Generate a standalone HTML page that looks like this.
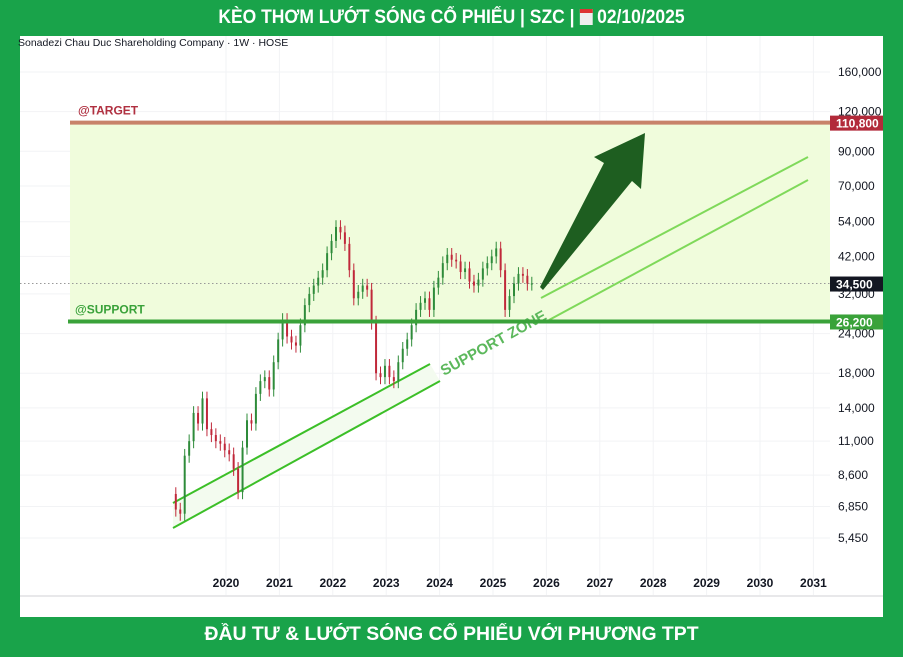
<!DOCTYPE html>
<html><head><meta charset="utf-8"><style>
body{margin:0;width:903px;height:657px;background:#19a34a;overflow:hidden;font-family:"Liberation Sans",sans-serif}
#title,#footer{position:absolute;left:0;width:903px;text-align:center;color:#fff;font-family:"Liberation Sans Narrow","Liberation Sans","Noto Sans CJK SC",sans-serif;font-weight:bold;font-size:19px}
#title{top:7px;transform:scaleX(0.92)}
#footer{top:624px;transform:scaleX(1.02)}
#panel{position:absolute;left:20px;top:36px;width:863px;height:581px;background:#fff}
svg{position:absolute;left:0;top:0}
</style></head><body>
<div id="title">KÈO THƠM LƯỚT SÓNG CỔ PHIẾU | SZC | <span style="display:inline-block;width:14px;height:16px;background:#eee;border-top:4px solid #d33;vertical-align:-2px;box-sizing:border-box"></span> 02/10/2025</div>
<div id="panel"></div>
<div id="footer">ĐẦU TƯ &amp; LƯỚT SÓNG CỔ PHIẾU VỚI PHƯƠNG TPT</div>
<svg id="chart" width="903" height="657"></svg>
<script>
const priceTicks=[160000,120000,90000,70000,54000,42000,32000,24000,18000,14000,11000,8600,6850,5450];
const yearTicks=[2020,2021,2022,2023,2024,2025,2026,2027,2028,2029,2030,2031];
const closes=[6700,6500,9900,11000,13500,12500,15000,12000,11500,11000,10800,10300,10000,9000,7600,10500,12800,12500,15500,17000,17500,16000,19500,23000,26500,23500,22500,22000,25500,29500,32000,34000,36000,38000,43000,47000,52000,50000,46000,38000,31000,32500,34000,33000,26000,18000,17500,19000,17500,17000,19500,21500,23000,25500,28500,30000,31000,28500,33500,36000,40000,42500,41000,40500,37500,38500,35000,34000,35500,38500,40000,42000,44500,38000,28500,31500,34500,37000,36500,34500,34500];
const firstOpen=7500;
const startYear=2019.06;
const targetPrice=110800, supportPrice=26200, lastPrice=34500;
const NS="http://www.w3.org/2000/svg";
const svg=document.getElementById('chart');
function yS(p){return 538-137.9*Math.log(p/5450);}
function xS(yr){return 226+(yr-2020)*53.4;}
function mk(t,a,txt){const e=document.createElementNS(NS,t);for(const k in a)e.setAttribute(k,a[k]);if(txt!==undefined)e.textContent=txt;svg.appendChild(e);return e;}
yearTicks.forEach(y=>{const g=mk('line',{x1:xS(y),x2:xS(y),y1:36,y2:596,stroke:'#f2f3f5'});


const t=mk('text',{x:xS(y),y:587,'text-anchor':'middle','font-size':12,'font-weight':'bold',fill:'#131722'},String(y));

});
priceTicks.forEach(p=>{const g=mk('line',{x1:20,x2:830,y1:yS(p),y2:yS(p),stroke:'#f2f3f5'});


const t=mk('text',{x:838,y:yS(p)+4,'font-size':12,fill:'#131722'},p.toLocaleString('en-US'));

});
mk('line',{x1:20,x2:883,y1:596,y2:596,stroke:'#e8e8ea','stroke-width':2});
const yT=yS(targetPrice), ySu=yS(supportPrice), yL=yS(lastPrice);
let z=mk('rect',{x:70,y:yT,width:760,height:ySu-yT,fill:'#f0fcdc'});


mk('line',{x1:20,x2:830,y1:yL,y2:yL,stroke:'#999','stroke-dasharray':'1.5 2.5'});
let cf=mk('polygon',{points:'173,503 430,364 440,381 173,528',fill:'#f3fbef'});


[[173,503,430,364],[173,528,440,381]].forEach(l=>{const e=mk('line',{x1:l[0],y1:l[1],x2:l[2],y2:l[3],stroke:'#3cbf28','stroke-width':2});

});
[[541,298,808,157],[549,320,808,180]].forEach(l=>{const e=mk('line',{x1:l[0],y1:l[1],x2:l[2],y2:l[3],stroke:'#7fd95a','stroke-width':2});

});
let st=mk('text',{x:0,y:0,'font-size':15,'font-weight':'bold',fill:'#5cb85c',transform:'translate(444,376) rotate(-29)'},'SUPPORT ZONE');


const step=1/12;
closes.forEach((c,i)=>{const o=i===0?firstOpen:closes[i-1];const x=xS(startYear+i*step);
const hi=Math.max(o,c)*1.05, lo=Math.min(o,c)*0.95;const col=c>=o?'#2e8b3a':'#c0283a';
const w=mk('line',{x1:x,x2:x,y1:yS(hi),y2:yS(lo),stroke:col,'stroke-width':1});


const t=Math.min(yS(o),yS(c));const b=mk('rect',{x:x-1,y:t,width:2,height:Math.max(1,Math.abs(yS(o)-yS(c))),fill:col});

});
let tl=mk('line',{x1:70,x2:830,y1:yT,y2:yT,stroke:'#c8826a','stroke-width':4});


let sl=mk('line',{x1:68,x2:830,y1:ySu,y2:ySu,stroke:'#3aa23a','stroke-width':4});


let tt=mk('text',{x:78,y:yT-8,'font-size':12,'font-weight':'bold',fill:'#b03040'},'@TARGET');


let stx=mk('text',{x:75,y:ySu-8,'font-size':12,'font-weight':'bold',fill:'#3aa23a'},'@SUPPORT');


let ar=mk('polygon',{points:'540,287 604,163 594,157 645,133 641,189 632,181 543,290',fill:'#1e5e20'});


[[targetPrice,'#b22a3a'],[lastPrice,'#131722'],[supportPrice,'#3aa23a']].forEach(d=>{const y=yS(d[0]);
const r=mk('rect',{x:830,y:y-7,width:53,height:15,fill:d[1]});


const t=mk('text',{x:836,y:y+5,'font-size':12,fill:'#fff','font-weight':'bold'},d[0].toLocaleString('en-US'));

});
let sub=mk('text',{x:18,y:46,'font-size':10.5,fill:'#131722'},'Sonadezi Chau Duc Shareholding Company · 1W · HOSE');


</script>
</body></html>
